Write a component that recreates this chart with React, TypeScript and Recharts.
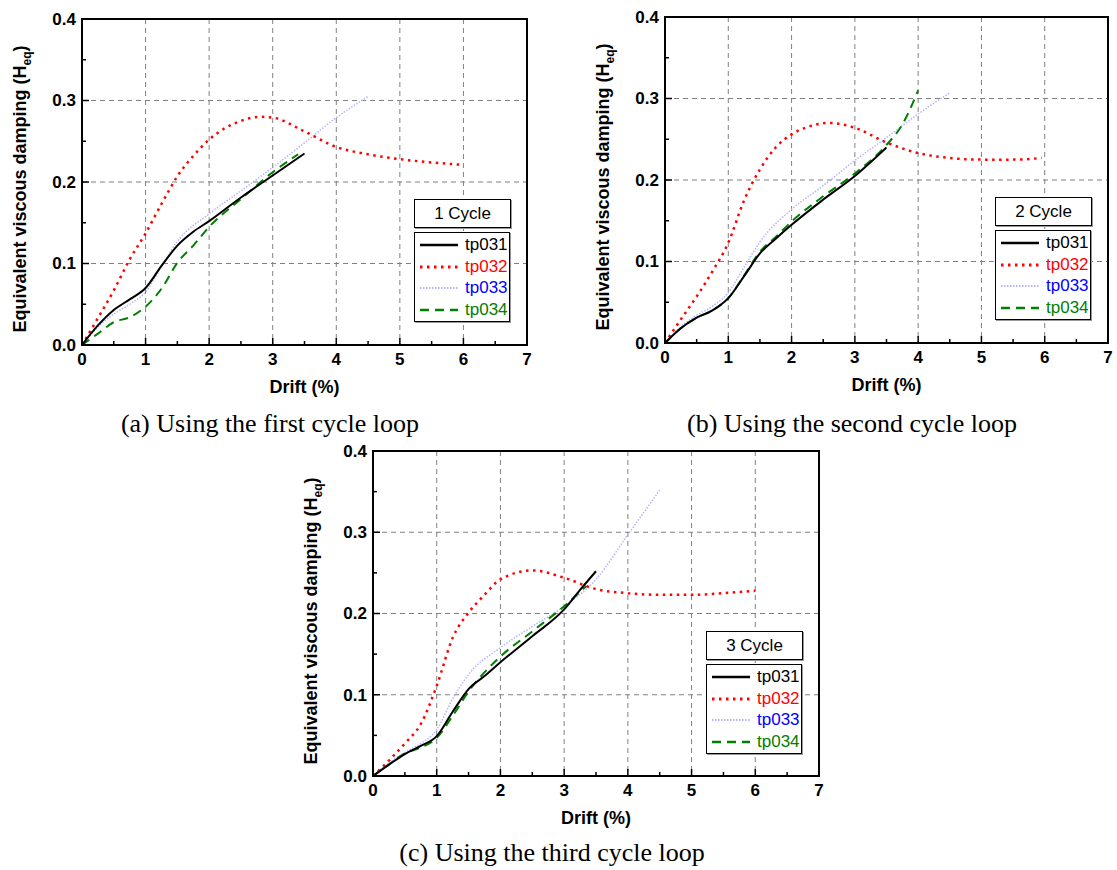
import React from "react";
import { LineChart, Line, XAxis, YAxis, CartesianGrid, ReferenceArea } from "recharts";

const driftTicks = [0, 0.5, 1, 1.5, 2, 2.5, 3, 3.5, 4, 4.5, 5, 5.5, 6, 6.5, 7];
const dampingTicks = [0, 0.05, 0.1, 0.15, 0.2, 0.25, 0.3, 0.35, 0.4];
const driftGrid = [1, 2, 3, 4, 5, 6];
const dampingGrid = [0.1, 0.2, 0.3];
const specimens = ["tp031", "tp032", "tp033", "tp034"];
const cycleTitles = ["1 Cycle", "2 Cycle", "3 Cycle"];
const captions = [
    "(a) Using the first cycle loop",
    "(b) Using the second cycle loop",
    "(c) Using the third cycle loop",
];

// 1st cycle
const c1Tp031Drift = [0, 0.25, 0.5, 0.75, 1.0, 1.25, 1.5, 1.75, 2.0, 2.5, 3.0, 3.5];
const c1Tp031 = [0, 0.024, 0.043, 0.056, 0.070, 0.097, 0.122, 0.139, 0.152, 0.181, 0.208, 0.235];
const c1Tp032Drift = [0, 0.25, 0.5, 0.75, 1.0, 1.25, 1.5, 1.75, 2.0, 2.5, 2.8, 3.0, 3.5, 4.0, 4.5, 5.0, 5.5, 6.0];
const c1Tp032 = [0, 0.033, 0.067, 0.105, 0.137, 0.173, 0.207, 0.232, 0.252, 0.275, 0.280, 0.279, 0.262, 0.243, 0.234, 0.228, 0.224, 0.221];
const c1Tp033Drift = [0, 0.25, 0.5, 0.75, 1.0, 1.25, 1.5, 2.0, 2.5, 3.0, 3.5, 4.0, 4.5];
const c1Tp033 = [0, 0.022, 0.038, 0.050, 0.065, 0.096, 0.127, 0.161, 0.189, 0.218, 0.248, 0.279, 0.305];
const c1Tp034Drift = [0, 0.25, 0.5, 0.75, 1.0, 1.25, 1.5, 1.75, 2.0, 2.5, 3.0, 3.4];
const c1Tp034 = [0, 0.014, 0.028, 0.034, 0.047, 0.069, 0.101, 0.122, 0.145, 0.179, 0.212, 0.234];

// 2nd cycle
const c2Tp031Drift = [0, 0.25, 0.5, 0.75, 1.0, 1.25, 1.5, 1.75, 2.0, 2.5, 3.0, 3.5];
const c2Tp031 = [0, 0.018, 0.031, 0.040, 0.055, 0.082, 0.110, 0.128, 0.145, 0.176, 0.205, 0.240];
const c2Tp032Drift = [0, 0.25, 0.5, 0.75, 1.0, 1.25, 1.5, 1.75, 2.0, 2.25, 2.6, 3.0, 3.5, 4.0, 4.5, 5.0, 5.5, 5.95];
const c2Tp032 = [0, 0.029, 0.057, 0.088, 0.123, 0.175, 0.213, 0.240, 0.256, 0.265, 0.270, 0.264, 0.246, 0.233, 0.227, 0.225, 0.225, 0.227];
const c2Tp033Drift = [0, 0.25, 0.5, 0.75, 1.0, 1.25, 1.5, 2.0, 2.5, 3.0, 3.5, 4.0, 4.5];
const c2Tp033 = [0, 0.020, 0.034, 0.045, 0.062, 0.093, 0.124, 0.164, 0.193, 0.224, 0.252, 0.281, 0.307];
const c2Tp034Drift = [0, 0.25, 0.5, 0.75, 1.0, 1.25, 1.5, 1.75, 2.0, 2.5, 3.0, 3.5, 3.75, 4.0];
const c2Tp034 = [0, 0.018, 0.031, 0.040, 0.055, 0.083, 0.112, 0.130, 0.149, 0.180, 0.208, 0.243, 0.268, 0.310];

// 3rd cycle
const c3Tp031Drift = [0, 0.25, 0.5, 0.75, 1.0, 1.25, 1.5, 1.75, 2.0, 2.5, 3.0, 3.25, 3.5];
const c3Tp031 = [0, 0.014, 0.027, 0.037, 0.049, 0.079, 0.107, 0.123, 0.140, 0.172, 0.205, 0.229, 0.252];
const c3Tp032Drift = [0, 0.25, 0.5, 0.75, 1.0, 1.25, 1.5, 1.75, 2.0, 2.5, 3.0, 3.5, 4.0, 4.5, 5.0, 5.5, 6.0];
const c3Tp032 = [0, 0.019, 0.040, 0.064, 0.111, 0.170, 0.201, 0.223, 0.242, 0.253, 0.244, 0.230, 0.225, 0.223, 0.223, 0.225, 0.228];
const c3Tp033Drift = [0, 0.25, 0.5, 0.75, 1.0, 1.25, 1.5, 2.0, 2.5, 3.0, 3.5, 4.0, 4.5];
const c3Tp033 = [0, 0.016, 0.029, 0.040, 0.057, 0.095, 0.125, 0.158, 0.184, 0.209, 0.242, 0.297, 0.352];
const c3Tp034Drift = [0, 0.25, 0.5, 0.75, 1.0, 1.25, 1.5, 2.0, 2.5, 3.0, 3.35];
const c3Tp034 = [0, 0.014, 0.028, 0.035, 0.047, 0.074, 0.104, 0.147, 0.178, 0.209, 0.234];

const pts = (xs: number[], ys: number[]) => xs.map((x, i) => ({ x, y: ys[i] }));

const cycles = [
    [pts(c1Tp031Drift, c1Tp031), pts(c1Tp032Drift, c1Tp032), pts(c1Tp033Drift, c1Tp033), pts(c1Tp034Drift, c1Tp034)],
    [pts(c2Tp031Drift, c2Tp031), pts(c2Tp032Drift, c2Tp032), pts(c2Tp033Drift, c2Tp033), pts(c2Tp034Drift, c2Tp034)],
    [pts(c3Tp031Drift, c3Tp031), pts(c3Tp032Drift, c3Tp032), pts(c3Tp033Drift, c3Tp033), pts(c3Tp034Drift, c3Tp034)],
];

const seriesStyle: Record<string, { stroke: string; width: number; dash?: string; text: string }> = {
    tp031: { stroke: "#000000", width: 2, text: "#000000" },
    tp032: { stroke: "#ff0000", width: 2.5, dash: "2.5 4.5", text: "#ff0000" },
    tp033: { stroke: "#b4b4ff", width: 1.5, dash: "1.5 1.5", text: "#0000ff" },
    tp034: { stroke: "#008000", width: 2, dash: "9 6", text: "#008000" },
};
// draw order, back to front
const drawOrder = [2, 3, 1, 0];

// panel placement on the page
const panels = [
    { left: 0, top: 0, width: 537, height: 405, mt: 19, mr: 10, capX: 270, capY: 424 },
    { left: 583, top: 0, width: 533, height: 403, mt: 17, mr: 8, capX: 852, capY: 424 },
    { left: 291, top: 432, width: 538, height: 404, mt: 19, mr: 10, capX: 552, capY: 853 },
];

const SANS = '"Liberation Sans", Arial, sans-serif';
const SERIF = '"Liberation Serif", "Times New Roman", serif';
const Y_AXIS_W = 82;
const X_AXIS_H = 60;

const XTick = (props: any) => {
    const { x, y, payload } = props;
    const major = Number.isInteger(payload.value);
    return (
        <g>
            <line x1={x} x2={x} y1={y} y2={y - (major ? 7 : 4)} stroke="#000" strokeWidth={1.5} />
            {major && (
                <text x={x} y={y + 14} dy="0.35em" textAnchor="middle" fontFamily={SANS} fontWeight="bold" fontSize={17} fill="#000">
                    {payload.value}
                </text>
            )}
        </g>
    );
};

const YTick = (props: any) => {
    const { x, y, payload } = props;
    const major = Math.round(payload.value * 100) % 10 === 0;
    return (
        <g>
            <line x1={x} x2={x + (major ? 7 : 4)} y1={y} y2={y} stroke="#000" strokeWidth={1.5} />
            {major && (
                <text x={x - 6} y={y} dy="0.35em" textAnchor="end" fontFamily={SANS} fontWeight="bold" fontSize={17} fill="#000">
                    {payload.value.toFixed(1)}
                </text>
            )}
        </g>
    );
};

function LegendSample({ name }: { name: string }) {
    const s = seriesStyle[name];
    return (
        <svg width={40} height={10} style={{ display: "block" }}>
            <line x1={1} x2={39} y1={5} y2={5} stroke={s.stroke} strokeWidth={s.width + 0.5} strokeDasharray={s.dash} />
        </svg>
    );
}

function Panel({ idx }: { idx: number }) {
    const p = panels[idx];
    const plotW = p.width - Y_AXIS_W - p.mr;
    const plotH = p.height - p.mt - X_AXIS_H;
    const plotRight = Y_AXIS_W + plotW;
    const box = { position: "absolute" as const, border: "1px solid #000", boxShadow: "1px 1px 0 #999", background: "#fff" };

    return (
        <div style={{ position: "absolute", left: p.left, top: p.top, width: p.width, height: p.height }}>
            <LineChart width={p.width} height={p.height} margin={{ top: p.mt, right: p.mr, left: 0, bottom: 0 }}>
                <CartesianGrid
                    horizontalValues={dampingGrid}
                    verticalValues={driftGrid}
                    stroke="#808080"
                    strokeDasharray="5 4"
                />
                <XAxis
                    dataKey="x"
                    type="number"
                    domain={[0, 7]}
                    ticks={driftTicks}
                    interval={0}
                    height={X_AXIS_H}
                    axisLine={false}
                    tickLine={false}
                    tickSize={0}
                    tickMargin={0}
                    tick={XTick}
                    allowDataOverflow
                />
                <YAxis
                    type="number"
                    domain={[0, 0.4]}
                    ticks={dampingTicks}
                    interval={0}
                    width={Y_AXIS_W}
                    axisLine={false}
                    tickLine={false}
                    tickSize={0}
                    tickMargin={0}
                    tick={YTick}
                    allowDataOverflow
                />
                <ReferenceArea x1={0} x2={7} y1={0} y2={0.4} fill="none" stroke="#000" strokeWidth={2} />
                {drawOrder.map((k) => {
                    const name = specimens[k];
                    const s = seriesStyle[name];
                    return (
                        <Line
                            key={name}
                            name={name}
                            data={cycles[idx][k]}
                            dataKey="y"
                            type="monotone"
                            stroke={s.stroke}
                            strokeWidth={s.width}
                            strokeDasharray={s.dash}
                            dot={false}
                            activeDot={false}
                            isAnimationActive={false}
                        />
                    );
                })}
            </LineChart>

            {/* y axis title */}
            <div
                style={{
                    position: "absolute",
                    left: 22,
                    top: p.mt + 170,
                    transform: "translate(-50%, -50%) rotate(-90deg)",
                    whiteSpace: "nowrap",
                    fontFamily: SANS,
                    fontWeight: "bold",
                    fontSize: 18,
                }}
            >
                Equivalent viscous damping (H<sub style={{ fontSize: 12 }}>eq</sub>)
            </div>

            {/* x axis title */}
            <div
                style={{
                    position: "absolute",
                    left: Y_AXIS_W + plotW / 2,
                    top: p.mt + plotH + 42,
                    transform: "translate(-50%, -50%)",
                    whiteSpace: "nowrap",
                    fontFamily: SANS,
                    fontWeight: "bold",
                    fontSize: 18,
                }}
            >
                Drift (%)
            </div>

            {/* legend */}
            <div
                style={{
                    ...box,
                    left: plotRight - 113,
                    top: p.mt + 180,
                    width: 95,
                    height: 27,
                    fontFamily: SANS,
                    fontSize: 17,
                    lineHeight: "27px",
                    textAlign: "center",
                }}
            >
                {cycleTitles[idx]}
            </div>
            <div
                style={{
                    ...box,
                    left: plotRight - 113,
                    top: p.mt + 213,
                    width: 96,
                    height: 90,
                    fontFamily: SANS,
                    fontSize: 17,
                    paddingTop: 1,
                    boxSizing: "border-box",
                }}
            >
                {specimens.map((name) => (
                    <div key={name} style={{ display: "flex", alignItems: "center", height: 21.7, paddingLeft: 4 }}>
                        <LegendSample name={name} />
                        <span style={{ color: seriesStyle[name].text, marginLeft: 6, lineHeight: "20px" }}>{name}</span>
                    </div>
                ))}
            </div>
        </div>
    );
}

export default function App() {
    return (
        <div style={{ position: "absolute", left: 0, top: 0, width: 1117, height: 870, background: "#fff" }}>
            {panels.map((p, i) => (
                <React.Fragment key={i}>
                    <Panel idx={i} />
                    <div
                        style={{
                            position: "absolute",
                            left: p.capX,
                            top: p.capY,
                            transform: "translate(-50%, -50%)",
                            whiteSpace: "nowrap",
                            fontFamily: SERIF,
                            fontSize: 26,
                            color: "#000",
                        }}
                    >
                        {captions[i]}
                    </div>
                </React.Fragment>
            ))}
        </div>
    );
}
